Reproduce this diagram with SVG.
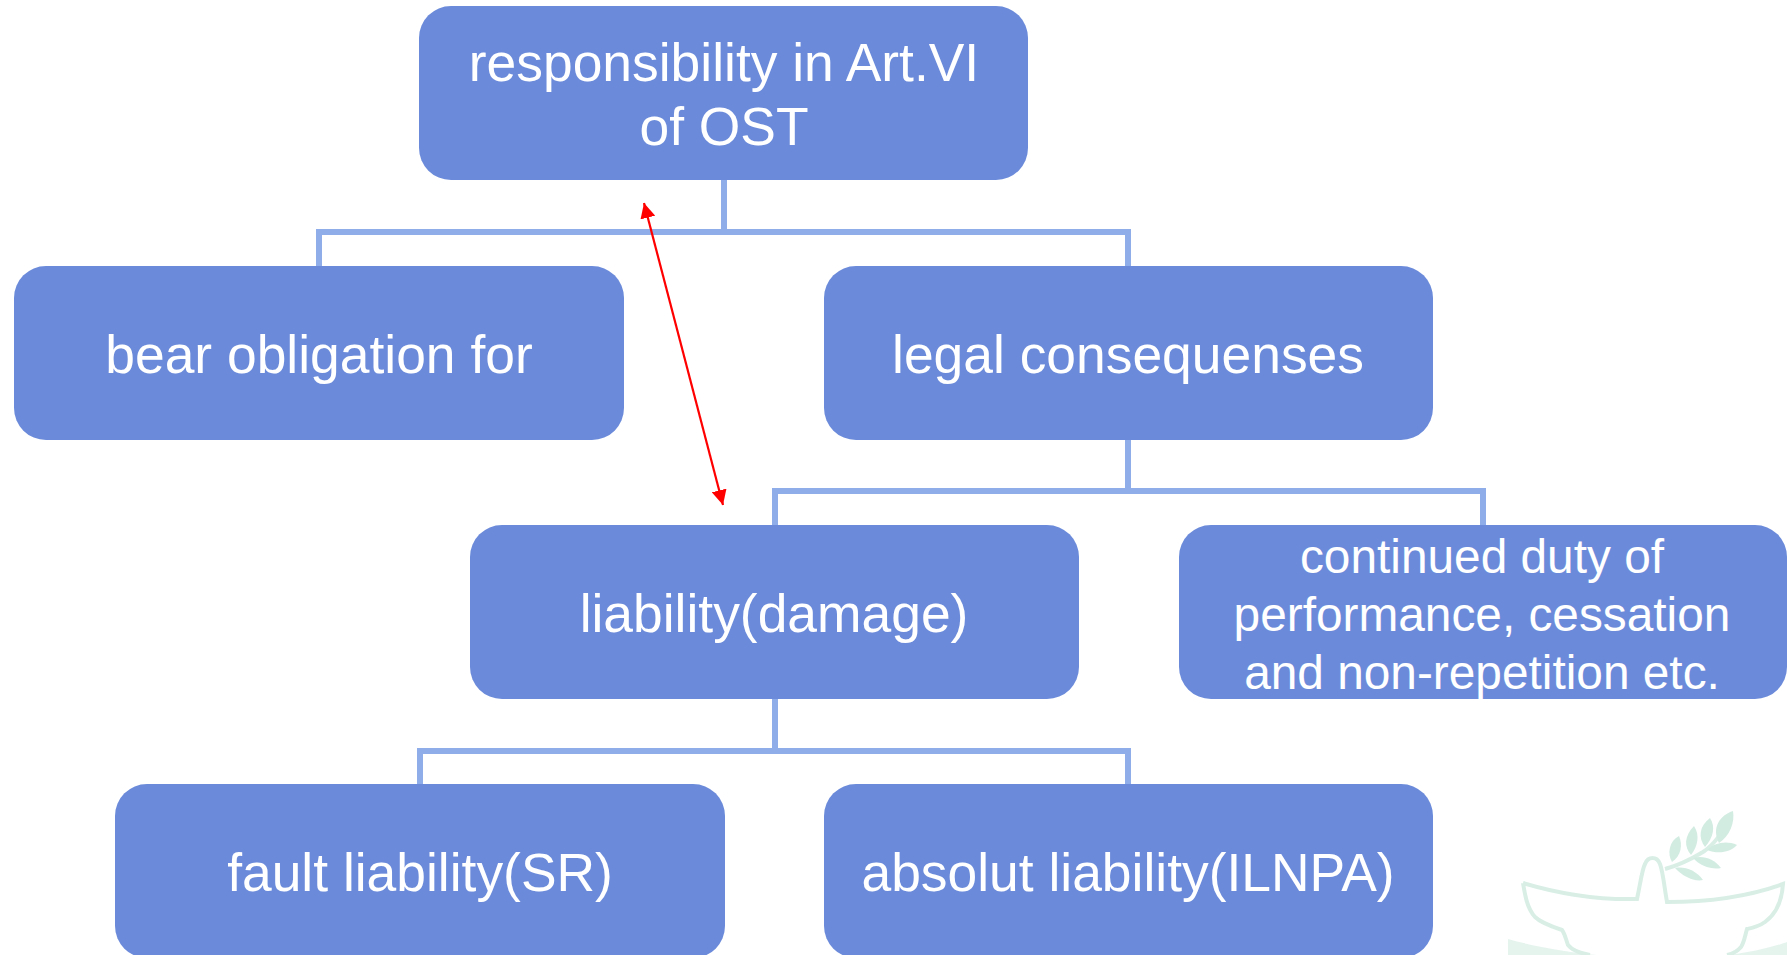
<svg xmlns="http://www.w3.org/2000/svg" width="1789" height="955" viewBox="0 0 1789 955">
<style>
.box{fill:#6b8bda}
.t{font-family:"Liberation Sans",Arial,sans-serif;font-size:53.4px;fill:#fff;text-anchor:middle}
.s{font-size:47.8px}
.c{fill:none;stroke:#8fade8;stroke-width:6}
.wm{fill:none;stroke:#d9efe6;stroke-width:4;stroke-linejoin:miter}
.lf{fill:#d3ece2}
.bd{fill:#e6f4ee}
</style>
<defs>
<marker id="a" viewBox="0 0 10 10" refX="10" refY="5" markerWidth="15" markerHeight="15" markerUnits="userSpaceOnUse" orient="auto-start-reverse"><path d="M0 0L10 5L0 10Z" fill="#f00"/></marker>
</defs>
<rect width="1789" height="955" fill="#fff"/>
<g id="watermark">
<path class="bd" d="M1508 939C1540 948 1570 952 1597 955H1508ZM1787 942C1770 948 1750 952 1730 955H1787Z"/>
<path class="wm" d="M1523 883C1560 894 1600 900 1637 899C1641 880 1642 870 1645 864C1648 856 1657 856 1660 864C1663 872 1664 885 1667 902C1710 902 1750 896 1783 884C1782 900 1776 914 1765 922C1758 927 1752 928 1747 929C1745 936 1744 943 1741 947C1737 952 1732 954 1727 955M1590 955C1578 953 1572 950 1568 945C1566 940 1565 934 1562 930C1550 926 1540 922 1535 917C1527 908 1525 895 1523 883"/>
<path class="wm" d="M1665 869C1680 865 1693 858 1703 852C1715 844 1724 830 1730 817" stroke-width="2.5"/>
<g class="lf">
<path d="M1733 811C1720 815 1711 828 1719 843C1730 836 1735 822 1733 811Z"/>
<path d="M1710 818C1699 826 1698 838 1705 847C1713 838 1716 827 1710 818Z"/>
<path d="M1694 826C1684 836 1684 847 1691 855C1698 846 1700 835 1694 826Z"/>
<path d="M1679 836C1669 841 1667 854 1672 862C1681 856 1683 845 1679 836Z"/>
<path d="M1737 845C1726 840 1714 843 1707 850C1717 854 1730 853 1737 845Z"/>
<path d="M1721 868C1714 858 1702 855 1693 858C1700 866 1712 870 1721 868Z"/>
<path d="M1703 880C1696 870 1684 866 1675 868C1682 876 1694 882 1703 880Z"/>
</g>
</g>
<g id="connectors">
<path class="c" d="M724 180V232M319 266V232H1128V266"/>
<path class="c" d="M1128 439V491M775 525V491H1483V525"/>
<path class="c" d="M775 699V751M420 784V751H1128V784"/>
<line x1="644" y1="203" x2="723" y2="505" stroke="#f00" stroke-width="2.2" marker-start="url(#a)" marker-end="url(#a)"/>
</g>
<g id="node-responsibility"><rect class="box" x="419" y="6" width="609" height="174" rx="32"/>
<text class="t" x="724" y="81">responsibility in Art.VI</text><text class="t" x="724" y="145">of OST</text></g>
<g id="node-bear"><rect class="box" x="14" y="266" width="610" height="174" rx="32"/>
<text class="t" x="319" y="373">bear obligation for</text></g>
<g id="node-legal"><rect class="box" x="824" y="266" width="609" height="174" rx="32"/>
<text class="t" x="1128" y="373">legal consequenses</text></g>
<g id="node-liability"><rect class="box" x="470" y="525" width="609" height="174" rx="32"/>
<text class="t" x="774" y="632">liability(damage)</text></g>
<g id="node-continued"><rect class="box" x="1179" y="525" width="608" height="174" rx="32"/>
<text class="t s" x="1482" y="573">continued duty of</text><text class="t s" x="1482" y="631">performance, cessation</text><text class="t s" x="1482" y="689">and non-repetition etc.</text></g>
<g id="node-fault"><rect class="box" x="115" y="784" width="610" height="174" rx="32"/>
<text class="t" x="420" y="891">fault liability(SR)</text></g>
<g id="node-absolut"><rect class="box" x="824" y="784" width="609" height="174" rx="32"/>
<text class="t" x="1128" y="891">absolut liability(ILNPA)</text></g>
</svg>
